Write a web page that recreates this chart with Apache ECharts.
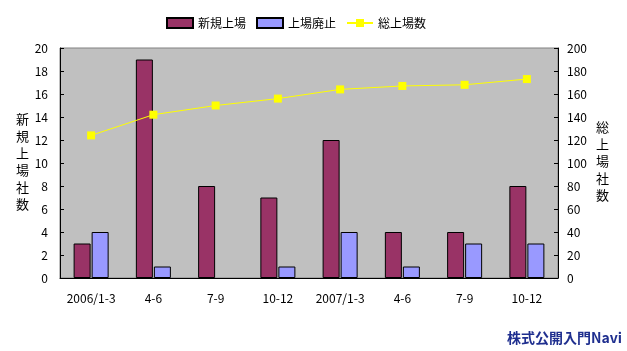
<!DOCTYPE html>
<html><head><meta charset="utf-8">
<script src="https://cdn.jsdelivr.net/npm/echarts@6/dist/echarts.min.js"></script>
<style>html,body{margin:0;padding:0;background:#fff}#c{width:627px;height:351px}</style>
</head><body><div id="c"></div>
<script>
const categories = ['2006/1-3','4-6','7-9','10-12','2007/1-3','4-6','7-9','10-12'];
const newListings = [3,19,8,7,12,4,4,8];
const delistings = [4,1,0,1,4,1,3,3];
const totalListed = [124,142,150,156,164,167,168,173];
const seriesNames = ['新規上場','上場廃止','総上場数'];
const leftTicks = {min:0,max:20,interval:2};
const rightTicks = {min:0,max:200,interval:20};

const F = '"Noto Sans CJK JP", sans-serif';
const barItems = (arr) => arr.map(v => v === 0 ? {value:v, itemStyle:{borderWidth:0}} : v);
const chart = echarts.init(document.getElementById('c'));
chart.setOption({
  animation:false,
  backgroundColor:'#fff',
  textStyle:{fontFamily:F},
  legend:{
    top:12, left:161, itemWidth:26, itemHeight:10, itemGap:10,
    textStyle:{fontSize:12,color:'#000',fontFamily:F},
    data:[
      {name:seriesNames[0],icon:'rect'},
      {name:seriesNames[1],icon:'rect'},
      {name:seriesNames[2]}
    ]
  },
  grid:{left:60,right:69,top:48,bottom:73,show:true,backgroundColor:'#C0C0C0',borderColor:'#808080',borderWidth:1},
  xAxis:{
    type:'category', data:categories, boundaryGap:true,
    axisLine:{lineStyle:{color:'#000',width:1}},
    axisTick:{inside:true,length:4,lineStyle:{color:'#000'}},
    axisLabel:{color:'#000',fontSize:12,margin:14,fontFamily:F,interval:0}
  },
  yAxis:[
    {type:'value',min:leftTicks.min,max:leftTicks.max,interval:leftTicks.interval,
     splitLine:{show:false},
     axisLine:{show:true,lineStyle:{color:'#000'}},
     axisTick:{show:true,inside:true,length:4,lineStyle:{color:'#000'}},
     axisLabel:{color:'#000',fontSize:12,margin:12,fontFamily:F}},
    {type:'value',min:rightTicks.min,max:rightTicks.max,interval:rightTicks.interval,
     splitLine:{show:false},
     axisLine:{show:true,lineStyle:{color:'#000'}},
     axisTick:{show:true,inside:true,length:4,lineStyle:{color:'#000'}},
     axisLabel:{color:'#000',fontSize:12,margin:9,fontFamily:F}}
  ],
  series:[
    {name:seriesNames[0],type:'bar',data:barItems(newListings),barWidth:17,barGap:'6%',
     itemStyle:{color:'#993366',borderColor:'#000',borderWidth:1}},
    {name:seriesNames[1],type:'bar',data:barItems(delistings),barWidth:17,barGap:'6%',
     itemStyle:{color:'#9999FF',borderColor:'#000',borderWidth:1}},
    {name:seriesNames[2],type:'line',yAxisIndex:1,data:totalListed,
     symbol:'rect',symbolSize:8,
     lineStyle:{color:'#FFFF00',width:1},
     itemStyle:{color:'#FFFF00'}}
  ],
  graphic:[
    {type:'text',left:16,top:111,style:{text:'新\n規\n上\n場\n社\n数',font:'13px '+F,fill:'#000',lineHeight:17}},
    {type:'text',left:596,top:119,style:{text:'総\n上\n場\n社\n数',font:'13px '+F,fill:'#000',lineHeight:17}},
    {type:'text',right:5,top:331,style:{text:'株式公開入門Navi',font:'bold 14px '+F,fill:'#1F2F8F'}}
  ]
});
</script></body></html>
